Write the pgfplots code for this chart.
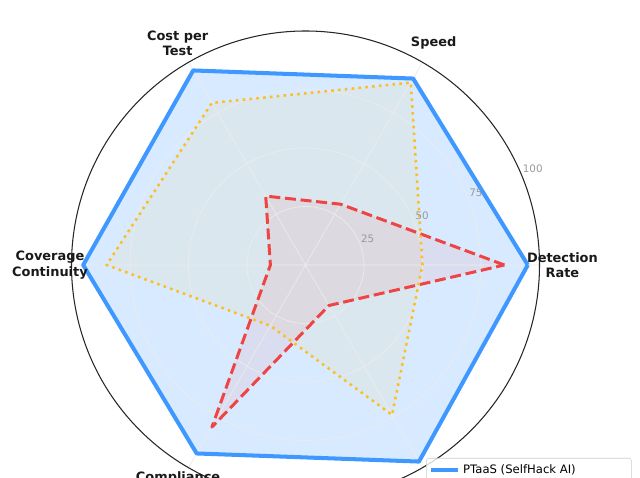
\documentclass[border=0pt]{standalone}
\usepackage{pgfplots}
\pgfplotsset{compat=1.18}
\usepgfplotslibrary{polar}
\usepackage{fontspec}
\setmainfont{DejaVu Sans}
\definecolor{ptaas}{RGB}{62,152,255}
\definecolor{manual}{RGB}{239,68,68}
\definecolor{scanner}{RGB}{251,191,36}

% scores per dimension (angle, score)
\pgfplotstableread{
ang ptaas manual scanner
0   95    85     50
60  92    30     90
120 96    34     80
180 95    15     85
240 93    80     30
300 97    20     74
360 95    85     50
}\scores

\begin{document}
\begin{tikzpicture}
\begin{polaraxis}[
  at={(0pt,0pt)}, anchor=center,
  scale only axis, width=336.96pt, height=336.96pt,
  xmin=0, xmax=360, ymin=0, ymax=100,
  xtick={0,60,...,300}, ytick={25,50,75,100},
  xticklabel={\relax}, yticklabel={\relax},
  major tick length=0pt,
  grid=major,
  major grid style={draw=black!8, line width=0.5pt},
  axis line style={draw=black!85, line width=0.75pt},
  y axis line style={draw=none},
  clip=false,
  set layers,
  legend image code/.code={\draw[#1] (0pt,0pt) -- (19.7pt,0pt);},
  legend cell align=left,
  legend style={
    at={(0.7575,0.0876)}, anchor=north west,
    draw=black!20, rounded corners=2pt, fill=white, fill opacity=0.8, text opacity=1,
    font=\fontsize{8.37}{10}\selectfont,
    inner xsep=2pt, inner ysep=2.5pt, row sep=2pt,
  },
]
% translucent areas under the grid
\addplot[forget plot, on layer=axis background, draw=none, fill=ptaas, fill opacity=0.2] table[x=ang, y=ptaas] {\scores};
\addplot[forget plot, on layer=axis background, draw=none, fill=scanner, fill opacity=0.08] table[x=ang, y=scanner] {\scores};
\addplot[forget plot, on layer=axis background, draw=none, fill=manual, fill opacity=0.08] table[x=ang, y=manual] {\scores};

\addplot[draw=ptaas, line width=2.9pt, line join=round] table[x=ang, y=ptaas] {\scores};
\addlegendentry{PTaaS (SelfHack AI)}
\addplot[draw=manual, line width=2.16pt, line join=round, dash pattern=on 7.9pt off 3.4pt] table[x=ang, y=manual] {\scores};
\addlegendentry{Traditional Pentest (Manual)}
\addplot[draw=scanner, line width=1.86pt, line join=round, dash pattern=on 1.86pt off 3.07pt] table[x=ang, y=scanner] {\scores};
\addlegendentry{Automated Scanners}

% category labels
\tikzset{cat/.style={font=\fontsize{9.3}{11.2}\selectfont\bfseries, text=black!90, align=center, inner sep=0pt}}
\node[cat] at (axis cs:0,109.8) {Detection\\Rate};
\node[cat] at (axis cs:60,109.5) {Speed};
\node[cat] at (axis cs:120,109.3) {Cost per\\Test};
\node[cat] at (axis cs:180,109.2) {Coverage\\Continuity};
\node[cat, anchor=base] at (axis cs:239.5,107.3) {Compliance};
\node[cat] at (axis cs:300,109.5) {Scalability};

% radial tick numbers
\tikzset{rt/.style={font=\fontsize{7.44}{9}\selectfont, text=black!40, inner sep=0pt}}
\node[rt] at (axis cs:23,28.9) {25};
\node[rt] at (axis cs:23,54.2) {50};
\node[rt] at (axis cs:23,79.1) {75};
\node[rt] at (axis cs:23,105.5) {100};
\end{polaraxis}
\pgfresetboundingbox
\path[use as bounding box] (-219.96pt,-153.36pt) rectangle (240.84pt,190.8pt);
\end{tikzpicture}
\end{document}
